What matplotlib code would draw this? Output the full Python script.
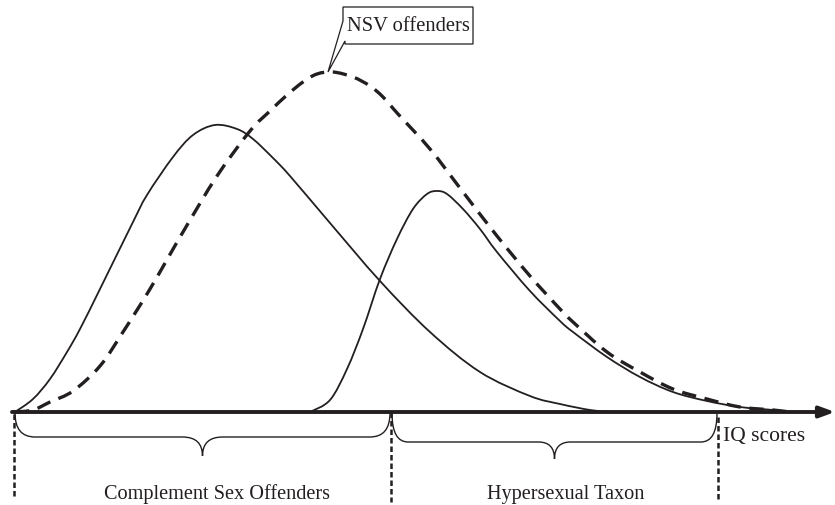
import matplotlib
matplotlib.use("Agg")
import matplotlib.pyplot as plt
from matplotlib.path import Path
from matplotlib.patches import PathPatch, Polygon

# ---- data (x position along IQ axis, height above axis) ----
complement_x = [15, 33, 50, 67, 80, 100, 133, 147, 173, 193, 215, 237, 253, 273, 290,
                330, 380, 430, 480, 530, 560, 590, 610]
complement_y = [0, 13, 33, 60, 83, 123, 190, 217, 255, 277, 287, 283, 273, 254, 236,
                189, 131, 80, 40, 16, 8, 2, 0]

nsv_x = [15, 33, 50, 73, 100, 123, 150, 183, 217, 250, 270, 287, 303, 317, 333, 353,
         370, 383, 398, 430, 463, 497, 530, 560, 573, 607, 640, 673, 707, 740, 773, 790]
nsv_y = [0, 2, 10, 21, 46, 80, 123, 180, 236, 281, 301, 317, 330, 338, 340, 335,
         326, 315, 298, 263, 220, 176, 136, 103, 90, 60, 40, 23, 13, 5, 2, 0]

hyper_x = [310, 330, 347, 363, 380, 397, 413, 427, 437, 447, 463, 480, 497, 530, 560,
           573, 607, 640, 673, 707, 740, 773, 790]
hyper_y = [0, 12, 43, 83, 133, 173, 203, 218, 221, 218, 203, 183, 160, 121, 91,
           80, 55, 35, 20, 11, 5, 2, 0]

group_labels = ["Complement Sex Offenders", "Hypersexual Taxon"]
group_bounds = [(15, 391), (391, 717)]
axis_label = "IQ scores"
callout_label = "NSV offenders"

INK = "#231f20"
FONT = ["Liberation Serif", "DejaVu Serif"]

fig = plt.figure(figsize=(8.35, 5.06), dpi=100)
ax = fig.add_axes([0, 0, 1, 1])
ax.set_xlim(0, 835)
ax.set_ylim(-93, 413)
ax.axis("off")


def smooth_path(xs, ys):
    """Smooth curve through the given points (Catmull-Rom as cubic Bezier segments)."""
    pts = list(zip(xs, ys))
    verts = [pts[0]]
    codes = [Path.MOVETO]
    n = len(pts)
    for i in range(n - 1):
        p0 = pts[i - 1] if i > 0 else pts[i]
        p1 = pts[i]
        p2 = pts[i + 1]
        p3 = pts[i + 2] if i + 2 < n else pts[i + 1]
        c1 = (p1[0] + (p2[0] - p0[0]) / 6, p1[1] + (p2[1] - p0[1]) / 6)
        c2 = (p2[0] - (p3[0] - p1[0]) / 6, p2[1] - (p3[1] - p1[1]) / 6)
        verts += [c1, c2, p2]
        codes += [Path.CURVE4] * 3
    return Path(verts, codes)


# curves
ax.add_patch(PathPatch(smooth_path(complement_x, complement_y), fill=False,
                       lw=1.3, edgecolor=INK))
ax.add_patch(PathPatch(smooth_path(hyper_x, hyper_y), fill=False,
                       lw=1.3, edgecolor=INK))
ax.add_patch(PathPatch(smooth_path(nsv_x, nsv_y), fill=False, lw=2.4,
                       edgecolor=INK, linestyle=(0, (4.3, 2.6)), capstyle="butt"))

# axis with arrow
ax.annotate("", xy=(835, 0), xytext=(12, 0),
            arrowprops=dict(arrowstyle="-|>,head_length=0.9,head_width=0.33",
                            lw=2.8, color=INK, shrinkA=0, shrinkB=0))
ax.text(723, -24, axis_label, fontsize=15.5, family=FONT, color=INK,
        ha="left", va="center")

# vertical dashed separators
for xs, y0, y1 in [(14, -2, -84), (391, 0, -90), (718, -5, -87)]:
    ax.plot([xs, xs], [y0, y1], color=INK, lw=1.8, dashes=(2.2, 1.2))


def brace(x0, x1, ytop, yh, ytip, r):
    xm = (x0 + x1) / 2
    verts = [(x0, ytop), (x0, yh), (x0 + r, yh),
             (xm - r, yh), (xm, yh), (xm, ytip),
             (xm, yh), (xm + r, yh),
             (x1 - r, yh), (x1, yh), (x1, ytop)]
    codes = [Path.MOVETO, Path.CURVE3, Path.CURVE3,
             Path.LINETO, Path.CURVE3, Path.CURVE3,
             Path.CURVE3, Path.CURVE3,
             Path.LINETO, Path.CURVE3, Path.CURVE3]
    ax.add_patch(PathPatch(Path(verts, codes), fill=False, lw=1.0, edgecolor=INK))


brace(group_bounds[0][0], group_bounds[0][1] - 1, -1, -25, -44, 20)
brace(group_bounds[1][0] + 1, group_bounds[1][1], -1, -30, -47, 16)

for (a, b), lab in zip(group_bounds, group_labels):
    ax.text((a + b) / 2 + 14 if lab.startswith("Comp") else (a + b) / 2 + 12, -86, lab,
            fontsize=14.6, family=FONT, color=INK, ha="center", va="baseline")

# callout for NSV offenders
peak_i = nsv_y.index(max(nsv_y))
tip = (nsv_x[peak_i] - 5, nsv_y[peak_i])
box = [(343, 405), (473, 405), (473, 368), (345, 368), (345, 371), tip, (343, 391)]
ax.add_patch(Polygon(box, closed=True, fill=True, facecolor="white",
                     edgecolor=INK, lw=0.9, joinstyle="miter"))
ax.text(408, 386.5, callout_label, fontsize=14.8, family=FONT, color=INK,
        ha="center", va="center")

fig.savefig("out.png", dpi=100, facecolor="white")
